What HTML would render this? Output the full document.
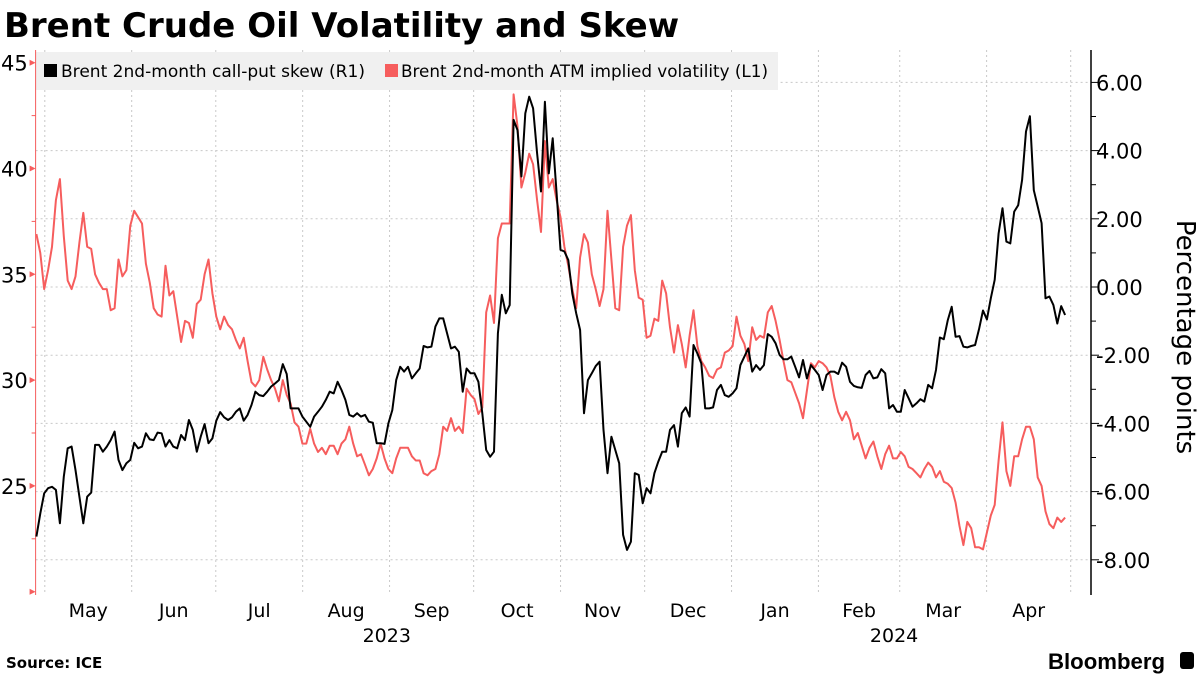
<!DOCTYPE html>
<html><head><meta charset="utf-8"><style>
body{margin:0;background:#fff;width:1200px;height:675px;overflow:hidden;font-family:"Liberation Sans","DejaVu Sans",sans-serif}
svg text{font-family:"DejaVu Sans","Liberation Sans",sans-serif}
</style></head><body>
<svg id="chart" width="1200" height="675" viewBox="0 0 1200 675" xmlns="http://www.w3.org/2000/svg">
<text x="4" y="37" font-size="34" font-weight="bold" fill="#000" style="font-family:'DejaVu Sans',sans-serif">Brent Crude Oil Volatility and Skew</text>
<g id="grid"></g>
<rect x="35" y="52" width="743" height="38" fill="#f0f0f0"/>
<g><rect x="44" y="64" width="13" height="13" fill="#000"/><text x="61" y="77" font-size="17" textLength="304" lengthAdjust="spacingAndGlyphs">Brent 2nd-month call-put skew (R1)</text></g>
<g><rect x="385" y="64" width="13" height="13" fill="#f65d5d"/><text x="401" y="77" font-size="17" textLength="367" lengthAdjust="spacingAndGlyphs">Brent 2nd-month ATM implied volatility (L1)</text></g>
<g id="axes"></g>
<g id="series"></g>
<text transform="translate(1177,337) rotate(90)" text-anchor="middle" font-size="26">Percentage points</text>
<text x="6" y="668" font-size="15" font-weight="bold">Source: ICE</text>
<text x="1048" y="669" font-size="22" font-weight="bold" textLength="117" lengthAdjust="spacingAndGlyphs" style="font-family:'Liberation Sans',sans-serif">Bloomberg</text>
<rect x="1180" y="652" width="14" height="17" rx="3" fill="#000"/>
</svg>
<script>
const monthLabels=["May","Jun","Jul","Aug","Sep","Oct","Nov","Dec","Jan","Feb","Mar","Apr"];
const monthStarts=["2023-05-01","2023-06-01","2023-07-01","2023-08-01","2023-09-01","2023-10-01","2023-11-01","2023-12-01","2024-01-01","2024-02-01","2024-03-01","2024-04-01","2024-05-01"];
const yearLabels=[{label:"2023",date:"2023-08-31"},{label:"2024",date:"2024-02-28"}];
const leftTicks=[25,30,35,40,45];
const leftMinor=[20,22.5,27.5,32.5,37.5,42.5];
const rightTicks=[-8,-6,-4,-2,0,2,4,6];
const startDate="2023-04-28", endDate="2024-04-29";
const volatility=[36.9,36.0,34.3,35.2,36.3,38.5,39.5,36.8,34.7,34.3,34.9,36.5,37.9,36.3,36.2,35.0,34.6,34.3,34.3,33.3,33.4,35.7,34.9,35.2,37.3,38.0,37.7,37.4,35.5,34.6,33.4,33.1,33.0,35.4,34.0,34.2,33.0,31.8,32.8,32.7,32.0,33.6,33.8,35.0,35.7,34.1,33.0,32.4,33.0,32.6,32.4,31.9,31.5,32.0,30.9,29.9,29.7,30.0,31.1,30.5,30.0,29.6,29.0,30.0,29.3,28.9,28.0,27.8,
27.0,27.0,27.7,27.0,26.6,26.8,26.5,26.9,26.9,26.5,27.0,27.2,27.8,27.0,26.4,26.5,26.0,25.5,25.8,26.3,27.0,26.3,25.8,25.6,26.3,26.8,26.8,26.8,26.4,26.2,26.2,25.6,25.5,25.7,25.8,26.5,27.8,27.6,28.2,27.6,27.8,27.5,29.6,29.3,29.1,28.4,28.7,33.2,34.0,32.7,36.7,37.4,37.4,37.4,43.5,42.0,39.1,39.8,40.7,40.2,38.5,37.0,41.3,39.1,39.5,38.5,
37.7,36.3,35.4,34.3,33.4,35.8,36.9,36.5,35.0,34.3,33.5,34.3,38.0,35.7,33.4,33.3,36.3,37.3,37.8,35.2,33.9,33.8,32.0,32.1,32.9,32.8,34.7,34.1,32.5,31.3,32.6,31.7,30.6,32.1,33.3,31.6,30.9,30.6,30.2,30.1,30.5,30.6,31.3,31.4,31.6,33.0,32.1,31.7,30.9,32.5,31.9,32.1,32.0,33.2,33.5,32.8,31.9,30.9,30.0,29.9,29.4,28.9,28.2,29.5,30.8,30.6,30.9,
30.8,30.6,30.2,29.2,28.5,28.1,28.5,28.1,27.2,27.5,26.9,26.3,26.8,27.1,26.4,25.8,26.5,26.9,26.3,26.3,26.6,26.4,25.9,25.8,25.6,25.4,25.8,26.1,25.9,25.4,25.7,25.2,25.1,24.9,24.2,23.1,22.2,23.3,23.0,22.1,22.1,22.0,22.8,23.6,24.1,26.2,28.0,25.7,25.0,26.4,26.4,27.2,27.8,27.8,27.2,25.4,25.0,23.8,23.2,23.0,23.5,23.3,23.5];
const skew=[-7.32,-6.64,-6.05,-5.90,-5.86,-5.95,-6.93,-5.56,-4.73,-4.68,-5.37,-6.15,-6.93,-6.15,-6.03,-4.63,-4.63,-4.83,-4.68,-4.49,-4.24,-5.07,-5.37,-5.17,-5.07,-4.57,-4.73,-4.68,-4.29,-4.47,-4.49,-4.27,-4.29,-4.68,-4.49,-4.68,-4.73,-4.34,-4.49,-3.90,-4.19,-4.83,-4.39,-4.02,-4.58,-4.44,-3.92,-3.67,-3.82,-3.90,-3.82,-3.66,-3.56,-3.92,-3.75,-3.46,-3.07,-3.17,-3.20,-3.07,-2.92,-2.83,-2.73,-2.26,-2.55,-3.56,-3.56,-3.56,
-3.80,-3.95,-4.10,-3.80,-3.66,-3.51,-3.31,-3.07,-3.12,-2.78,-3.02,-3.31,-3.75,-3.80,-3.70,-3.80,-3.75,-3.95,-3.98,-4.58,-4.58,-4.60,-4.00,-3.61,-2.73,-2.34,-2.48,-2.34,-2.68,-2.53,-2.39,-1.73,-1.77,-1.75,-1.16,-0.92,-0.92,-1.36,-1.80,-1.75,-1.90,-3.07,-2.39,-2.53,-2.53,-2.78,-3.70,-4.78,-4.98,-4.83,-1.36,-0.23,-0.77,-0.53,4.90,4.60,3.24,5.09,5.58,5.24,3.92,2.80,5.43,3.33,4.36,2.75,
1.09,1.04,0.79,-0.19,-0.77,-1.26,-3.70,-2.73,-2.53,-2.32,-2.19,-4.19,-5.46,-4.39,-4.78,-5.17,-7.27,-7.71,-7.47,-5.46,-5.51,-6.34,-5.90,-6.05,-5.46,-5.12,-4.83,-4.83,-4.19,-4.05,-4.68,-3.70,-3.53,-3.80,-1.70,-1.95,-2.24,-3.56,-3.56,-3.53,-3.02,-2.87,-3.17,-3.22,-3.12,-2.97,-2.29,-2.04,-1.80,-2.48,-2.29,-2.43,-2.29,-1.38,-1.46,-1.65,-1.99,-2.12,-2.12,-2.04,-2.34,-2.65,-2.14,-2.68,-2.29,-2.43,-2.58,
-3.02,-2.58,-2.48,-2.48,-2.55,-2.22,-2.34,-2.78,-2.90,-2.94,-2.96,-2.58,-2.46,-2.68,-2.65,-2.41,-2.53,-3.56,-3.46,-3.66,-3.66,-3.02,-3.26,-3.51,-3.41,-3.29,-3.36,-2.87,-2.97,-2.43,-1.48,-1.53,-0.97,-0.58,-1.46,-1.44,-1.75,-1.77,-1.73,-1.70,-1.24,-0.69,-0.95,-0.33,0.21,1.57,2.31,1.33,1.28,2.21,2.40,3.14,4.56,5.01,2.84,2.36,1.87,-0.33,-0.28,-0.53,-1.07,-0.56,-0.82];

const NS="http://www.w3.org/2000/svg";
const X0=35.6,X1=1091,YT=50,YB=595;
const d0=Date.parse("2023-05-01"),pxDay=(1070.7-44.8)/366;
function xDate(s){return 44.8+(Date.parse(s)-d0)/864e5*pxDay;}
function yLeft(v){return 62.7+(45-v)*21.16;}
function yRight(v){return 287-v*34.1;}
function el(tag,attrs,parent){const e=document.createElementNS(NS,tag);for(const k in attrs)e.setAttribute(k,attrs[k]);parent.appendChild(e);return e;}
const grid=document.getElementById('grid'),axes=document.getElementById('axes'),series=document.getElementById('series');
rightTicks.forEach(v=>{const y=yRight(v);
  const g=el('line',{x1:X0,x2:X1,y1:y,y2:y,stroke:'#c8c8c8','stroke-dasharray':'2,3','stroke-width':1},grid);
  
  
  el('line',{x1:X1,x2:X1+8,y1:y,y2:y,stroke:'#000'},axes);
  const t=el('text',{x:X1+5,y:y+8,'font-size':21},axes);t.textContent=(v<0?'-':'')+Math.abs(v).toFixed(2);
  
  
  if(v<6){const ym=yRight(v+1);el('line',{x1:X1,x2:X1+5,y1:ym,y2:ym,stroke:'#000'},axes);}
});
monthStarts.forEach(d=>{const x=xDate(d);
  const g=el('line',{x1:x,x2:x,y1:YT,y2:YB,stroke:'#c8c8c8','stroke-dasharray':'2,3','stroke-width':1},grid);
  
  
});
monthLabels.forEach((m,i)=>{const x=(xDate(monthStarts[i])+xDate(monthStarts[i+1]))/2;
  const t=el('text',{x:x,y:617,'font-size':19,'text-anchor':'middle'},axes);t.textContent=m;
  
  
});
yearLabels.forEach(o=>{const t=el('text',{x:xDate(o.date),y:642,'font-size':19,'text-anchor':'middle'},axes);t.textContent=o.label;
  
  
});
const la=el('line',{x1:X0,x2:X0,y1:YT,y2:YB,stroke:'#f65d5d','stroke-width':1},axes);


const ra=el('line',{x1:X1,x2:X1,y1:YT,y2:YB,stroke:'#000','stroke-width':1.5},axes);


leftTicks.forEach(v=>{const y=yLeft(v);
  el('path',{d:`M${X0} ${y} l-6 -3 v6 z`,fill:'#f65d5d'},axes);
  const t=el('text',{x:1,y:y+8,'font-size':21},axes);t.textContent=v;
  
  
});
leftMinor.forEach(v=>{const y=yLeft(v);
  if(v===20)el('path',{d:`M${X0} ${y} l-6 -3 v6 z`,fill:'#f65d5d'},axes);
  else el('line',{x1:X0-4,x2:X0,y1:y,y2:y,stroke:'#f65d5d'},axes);
});
const s0=xDate(startDate),s1=xDate(endDate);
function drawSeries(vals,yf,color,name){
  const n=vals.length;
  const pts=vals.map((v,i)=>(s0+i*(s1-s0)/(n-1)).toFixed(1)+','+yf(v).toFixed(1)).join(' ');
  const p=el('polyline',{points:pts,fill:'none',stroke:color,'stroke-width':2,'stroke-linejoin':'round'},series);
  
  
}
drawSeries(volatility,yLeft,'#f65d5d','volatility-line');
drawSeries(skew,yRight,'#000','skew-line');
</script>
</body></html>
